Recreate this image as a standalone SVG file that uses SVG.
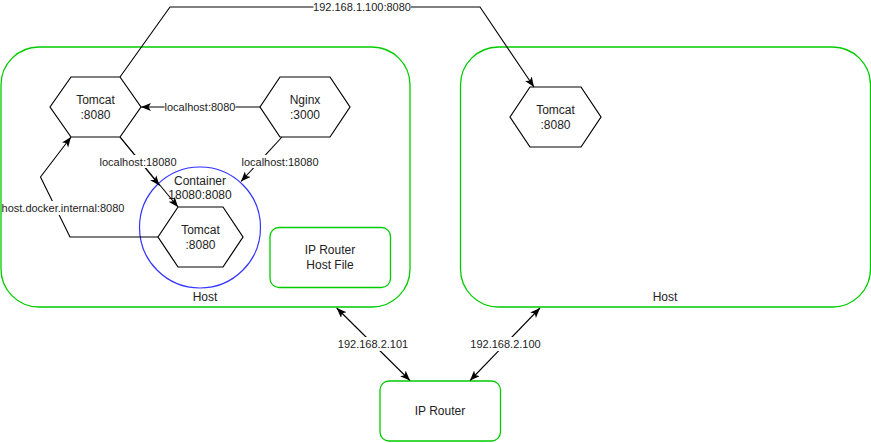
<svg xmlns="http://www.w3.org/2000/svg" width="871" height="443" viewBox="0 0 871 443">
<style>
.host{fill:#fff;stroke:#00cc00;stroke-width:1.3}
.box{fill:#fff;stroke:#00cc00;stroke-width:1.3}
.hex{fill:#fff;stroke:#000;stroke-width:1.2}
.ell{fill:none;stroke:#3333ff;stroke-width:1.2}
.t{font-family:"Liberation Sans",Arial,sans-serif;font-size:12px;fill:#222;text-anchor:middle}
.lt{font-family:"Liberation Sans",Arial,sans-serif;font-size:11px;fill:#222;text-anchor:middle}
.e{fill:none;stroke:#000;stroke-width:1.1}
.lb{fill:#fff;stroke:none}
</style>
<defs>
<marker id="arr" markerUnits="userSpaceOnUse" markerWidth="12" markerHeight="10" refX="10" refY="4" orient="auto-start-reverse" viewBox="0 0 12 10">
<path d="M0,0 L10,4 L0,8 L2.5,4 Z" fill="#000"/>
</marker>
</defs>

<g id="host-left">
<rect class="host" x="1" y="47" width="409" height="260" rx="38"/>
<text class="t" x="205" y="301">Host</text>
</g>
<g id="host-right">
<rect class="host" x="460.5" y="47" width="410" height="260" rx="38"/>
<text class="t" x="665" y="301">Host</text>
</g>
<g id="container">
<circle class="ell" cx="200" cy="227.5" r="60.5"/>
<text class="t" x="200" y="185">Container</text>
<text class="t" x="200" y="199">18080:8080</text>
</g>
<g id="tomcat-host">
<polygon class="hex" points="50,107 71,77 120,77 141,107 120,137 71,137"/>
<text class="t" x="95.5" y="104">Tomcat</text>
<text class="t" x="95.5" y="119">:8080</text>
</g>
<g id="nginx">
<polygon class="hex" points="260,107 280,77 330,77 350,107 330,137 280,137"/>
<text class="t" x="305" y="104">Nginx</text>
<text class="t" x="305" y="119">:3000</text>
</g>
<g id="tomcat-container">
<polygon class="hex" points="158,237 178,207 223,207 243,237 223,267 178,267"/>
<text class="t" x="200.5" y="234">Tomcat</text>
<text class="t" x="200.5" y="248.5">:8080</text>
</g>
<g id="tomcat-remote">
<polygon class="hex" points="510,117 530,87 581,87 601,117 581,147 530,147"/>
<text class="t" x="555.5" y="114">Tomcat</text>
<text class="t" x="555.5" y="129">:8080</text>
</g>
<g id="hostfile">
<rect class="box" x="270" y="227.5" width="120.5" height="60" rx="9"/>
<text class="t" x="330" y="253.5">IP Router</text>
<text class="t" x="330" y="268.5">Host File</text>
</g>
<g id="router">
<rect class="box" x="380" y="381" width="120.5" height="60" rx="9"/>
<text class="t" x="440" y="415">IP Router</text>
</g>

<g id="connectors">
<path class="e" d="M120,77 L170,7 L480,7 L534,87" marker-end="url(#arr)"/>
<rect class="lb" x="313.5" y="0" width="97.5" height="14"/>
<text class="lt" x="362" y="11">192.168.1.100:8080</text>

<path class="e" d="M260,107 L141,107" marker-end="url(#arr)"/>
<rect class="lb" x="164.5" y="100" width="71" height="14"/>
<text class="lt" x="200" y="111">localhost:8080</text>

<path class="e" d="M120,137 L159.5,185.5" marker-end="url(#arr)"/>
<path class="e" d="M120,137 L178,207" marker-end="url(#arr)"/>
<rect class="lb" x="99.5" y="155" width="77.5" height="13"/>
<text class="lt" x="138" y="165.5">localhost:18080</text>

<path class="e" d="M282,137 L241,181.5" marker-end="url(#arr)"/>
<rect class="lb" x="241" y="155" width="78" height="13"/>
<text class="lt" x="280" y="165.5">localhost:18080</text>

<path class="e" d="M158,237 L70,237 L40.5,177 L71,137" marker-end="url(#arr)"/>
<rect class="lb" x="2" y="201" width="123" height="14"/>
<text class="lt" x="63" y="212">host.docker.internal:8080</text>

<path class="e" d="M336.7,308 L410,380.5" marker-start="url(#arr)" marker-end="url(#arr)"/>
<rect class="lb" x="337.5" y="337" width="71" height="14"/>
<text class="lt" x="373" y="348">192.168.2.101</text>

<path class="e" d="M540,308 L470,380.5" marker-start="url(#arr)" marker-end="url(#arr)"/>
<rect class="lb" x="470" y="337" width="71" height="14"/>
<text class="lt" x="505.5" y="348">192.168.2.100</text>
</g>
</svg>
